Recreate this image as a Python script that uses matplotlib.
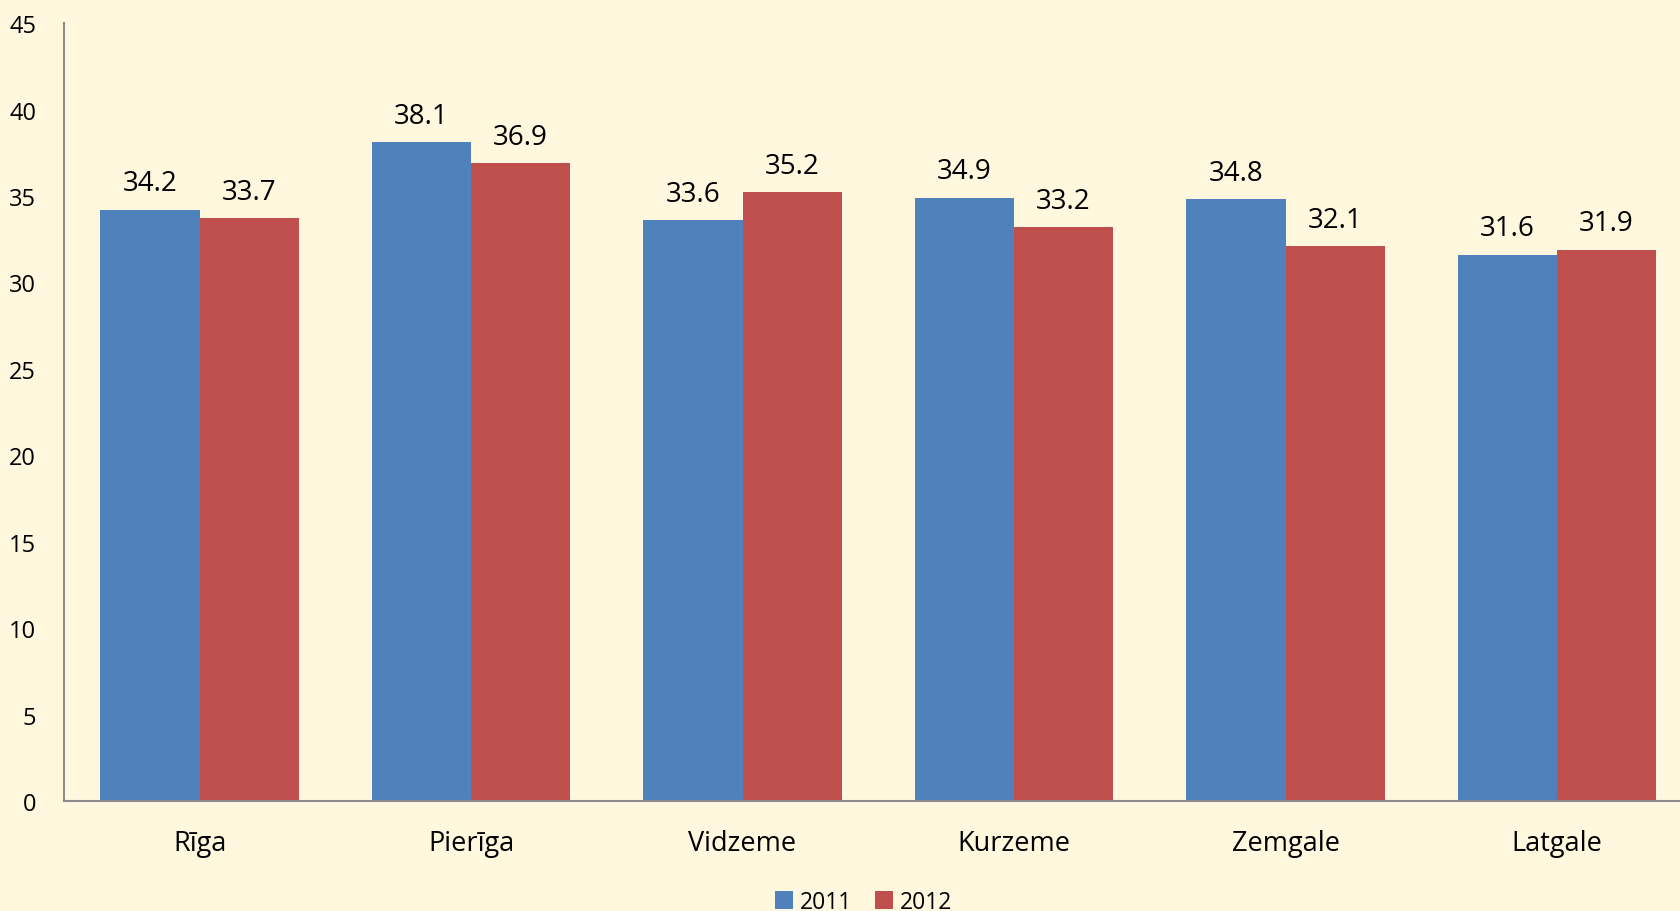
import numpy as np
import matplotlib.pyplot as plt

regions = ['Rīga', 'Pierīga', 'Vidzeme', 'Kurzeme', 'Zemgale', 'Latgale']
values_2011 = [34.2, 38.1, 33.6, 34.9, 34.8, 31.6]
values_2012 = [33.7, 36.9, 35.2, 33.2, 32.1, 31.9]
years = ['2011', '2012']

bg = '#FFF7DE'
colors = ['#4F81BD', '#C0504D']

plt.rcParams['font.family'] = ['Open Sans', 'DejaVu Sans']

fig = plt.figure(figsize=(16.8, 9.12), dpi=100, facecolor=bg)
ax = fig.add_axes([0.038, 0.1206, 0.9696, 0.853])
ax.set_facecolor(bg)

x = np.arange(len(regions))
w = 0.365
b1 = ax.bar(x - w / 2, values_2011, w, color=colors[0], label=years[0])
b2 = ax.bar(x + w / 2, values_2012, w, color=colors[1], label=years[1])

for bars, vals in [(b1, values_2011), (b2, values_2012)]:
    for bar, v in zip(bars, vals):
        ax.annotate(f'{v:.1f}', (bar.get_x() + bar.get_width() / 2, v),
                    xytext=(0, 9), textcoords='offset points',
                    ha='center', va='bottom', fontsize=20)

ax.set_xlim(-0.5, len(regions) - 0.5)
ax.set_ylim(0, 45)
ax.set_yticks(np.arange(0, 46, 5))
ax.set_xticks(x)
ax.set_xticklabels(regions, fontsize=19.5)
ax.tick_params(axis='y', labelsize=17, length=0, pad=20)
ax.tick_params(axis='x', length=0, pad=20)
for s in ['top', 'right']:
    ax.spines[s].set_visible(False)
for s in ['left', 'bottom']:
    ax.spines[s].set_color('#8C8C8C')
    ax.spines[s].set_linewidth(1.5)

fig.legend(loc='center', bbox_to_anchor=(0.514, 0.01), ncol=2, frameon=False,
           fontsize=16.5, handlelength=0.8, handleheight=0.8,
           handletextpad=0.3, columnspacing=1.0)

fig.savefig('out.png', dpi=100, facecolor=bg)
